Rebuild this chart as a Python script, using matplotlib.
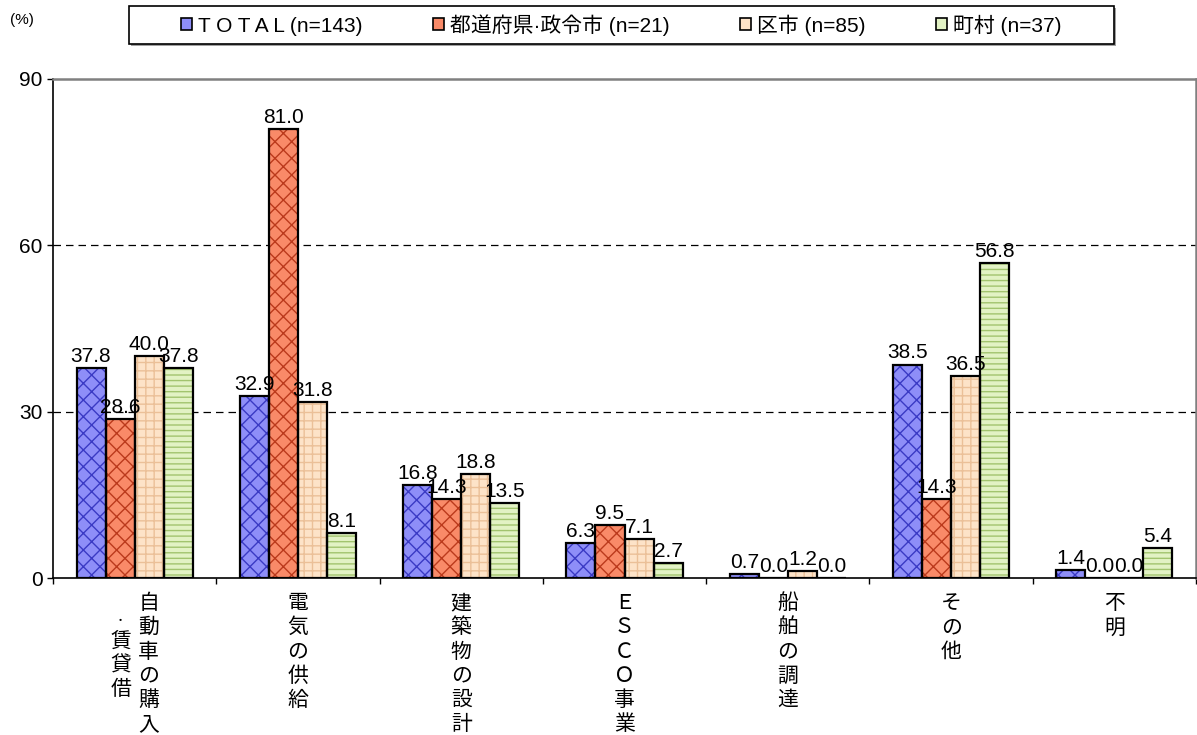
#!/usr/bin/env python3
"""Grouped bar chart: share of respondents by procurement field and body type"""

import numpy as np
import matplotlib
matplotlib.use('Agg')
import matplotlib.pyplot as plt
from matplotlib.patches import Rectangle, Patch

plt.rcParams['font.family'] = ['Liberation Sans', 'Noto Sans CJK JP', 'DejaVu Sans']
plt.rcParams['hatch.linewidth'] = 1.0

# columns of a vertical label are separated by '\n' (right column first)
CATEGORIES = ['自動車の購入\n・賃貸借', '電気の供給', '建築物の設計', 'ＥＳＣＯ事業',
              '船舶の調達', 'その他', '不明']
SERIES = ['T O T A L (n=143)', '都道府県·政令市 (n=21)', '区市 (n=85)', '町村 (n=37)']

TOTAL = [37.8, 32.9, 16.8, 6.3, 0.7, 38.5, 1.4]
PREF_CITY = [28.6, 81.0, 14.3, 9.5, 0.0, 14.3, 0.0]
WARD_CITY = [40.0, 31.8, 18.8, 7.1, 1.2, 36.5, 0.0]
TOWN_VILLAGE = [37.8, 8.1, 13.5, 2.7, 0.0, 56.8, 5.4]

Y_TICKS = [0, 30, 60, 90]

# face colour, hatch colour, hatch pattern
STYLES = [('#8e8ef8', '#3a3ac4', 'xx'),
          ('#f98a68', '#bb3a1c', 'xx'),
          ('#fde3c8', '#ebc098', '++'),
          ('#e2f2c4', '#a2c46e', '---')]

BAR_WIDTH = 0.178


def vertical_label(axis, x, text, size=15):
    """draw a label in vertical japanese writing below the x axis"""
    pitch = 24.3
    top = 25
    columns = text.split('\n')
    first_len = len(columns[0])
    for col_idx, column in enumerate(columns):
        dx = 0 if len(columns) == 1 else (14 if col_idx == 0 else -14)
        heights = [0.6 if ch == '・' else 1.0 for ch in column]
        if col_idx == 0:
            start = top - pitch / 2
        else:
            mid = top + (first_len - 1) * pitch / 2
            start = mid - sum(heights) * pitch / 2 - 6
        pos = start
        for ch, h in zip(column, heights):
            center = pos + h * pitch / 2
            axis.annotate(ch, xy=(x, 0), xycoords=('data', 'axes fraction'),
                          xytext=(dx, -center), textcoords='offset pixels',
                          ha='center', va='center',
                          fontsize=size if h == 1.0 else 8,
                          family=['Noto Sans CJK JP', 'DejaVu Sans'])
            pos += h * pitch


def main():
    fig = plt.figure(figsize=(11.97, 7.35), dpi=100)
    axis = fig.add_axes([53 / 1197, 1 - 578 / 735, 1143 / 1197, 499 / 735])

    x = np.arange(len(CATEGORIES))
    all_series = [TOTAL, PREF_CITY, WARD_CITY, TOWN_VILLAGE]

    axis.set_xlim(-0.5, len(CATEGORIES) - 0.5)
    axis.set_ylim(0, 90)

    for val in Y_TICKS[1:-1]:
        axis.axhline(val, color='black', lw=0.9, ls=(0, (6, 4)), zorder=1)

    handles = []
    for i, (values, (face, hatch_col, hatch)) in enumerate(zip(all_series, STYLES)):
        pos = x + (i - 1.5) * BAR_WIDTH
        axis.bar(pos, values, BAR_WIDTH, color=face, edgecolor=hatch_col,
                 hatch=hatch, linewidth=0, zorder=2)
        axis.bar(pos, values, BAR_WIDTH, fill=False, edgecolor='black',
                 linewidth=1.6, zorder=3)
        for xp, val in zip(pos, values):
            axis.annotate(f'{val:.1f}', xy=(xp, val), xytext=(0, 1.5),
                          textcoords='offset points', ha='center', va='bottom',
                          fontsize=15, zorder=4)
        handles.append(Patch(facecolor=face, edgecolor='black', linewidth=1.2))

    axis.set_yticks(Y_TICKS)
    axis.set_yticklabels([str(t) for t in Y_TICKS], fontsize=15)
    axis.set_xticks(np.arange(len(CATEGORIES) + 1) - 0.5)
    axis.set_xticklabels([])
    axis.tick_params(direction='out', length=4, width=1)

    for side in ('top', 'right'):
        axis.spines[side].set_color('#808080')
        axis.spines[side].set_linewidth(1.8)
    for side in ('left', 'bottom'):
        axis.spines[side].set_color('black')
        axis.spines[side].set_linewidth(1.2)

    for xi, label in zip(x, CATEGORIES):
        vertical_label(axis, xi, label)

    # legend box
    fig.patches.append(Rectangle((131 / 1197, 1 - 46 / 735), 985 / 1197, 38 / 735,
                                 transform=fig.transFigure, facecolor='#a0a0a0',
                                 edgecolor='none', zorder=0))
    fig.patches.append(Rectangle((129 / 1197, 1 - 44 / 735), 985 / 1197, 38 / 735,
                                 transform=fig.transFigure, facecolor='white',
                                 edgecolor='black', linewidth=1.2, zorder=1))
    fig.legend(handles, SERIES, loc='center', bbox_to_anchor=(621.5 / 1197, 1 - 25 / 735),
               ncol=4, frameon=False, fontsize=15, handlelength=0.5,
               handleheight=0.5, handletextpad=0.3, columnspacing=3.4)

    fig.text(10 / 1197, 1 - 20 / 735, '(%)', fontsize=11, va='center', ha='left')

    fig.savefig('out.png', dpi=100)


if __name__ == '__main__':
    main()
